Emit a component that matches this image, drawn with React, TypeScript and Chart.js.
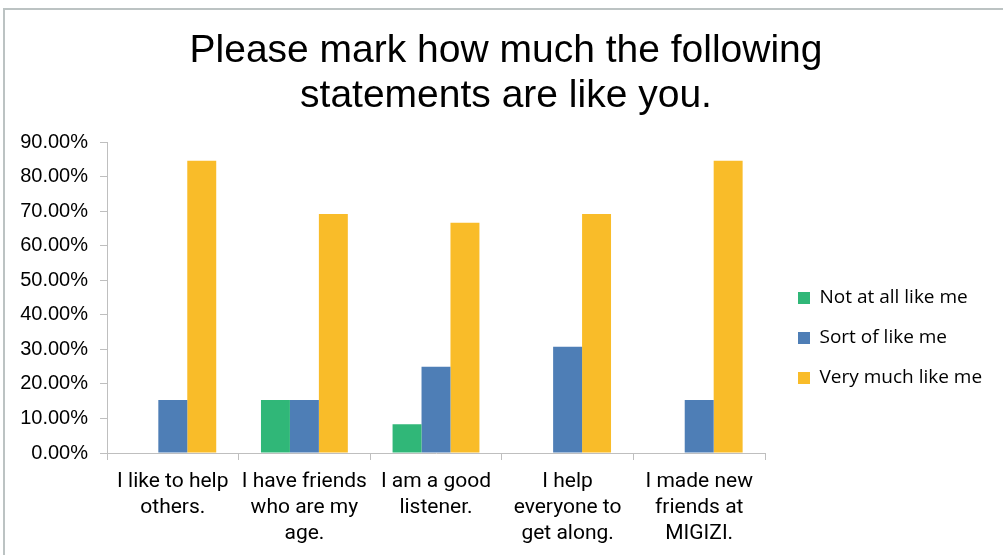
import React, { useEffect, useRef } from "react";
import { Chart, registerables } from "chart.js";

Chart.register(...registerables);

const titleLines = ["Please mark how much the following", "statements are like you."];
const categories = [
  ["I like to help", "others."],
  ["I have friends", "who are my", "age."],
  ["I am a good", "listener."],
  ["I help", "everyone to", "get along."],
  ["I made new", "friends at", "MIGIZI."],
];
const seriesNames = ["Not at all like me", "Sort of like me", "Very much like me"];
const notAtAll = [0, 15.38, 8.33, 0, 0];
const sortOf = [15.38, 15.38, 25, 30.77, 15.38];
const veryMuch = [84.62, 69.23, 66.67, 69.23, 84.62];
const seriesColors = ["#30B778", "#4E7EB6", "#F9BC29"];
const yTicks = [0, 10, 20, 30, 40, 50, 60, 70, 80, 90];

export default function App() {
  const ref = useRef<HTMLCanvasElement | null>(null);
  useEffect(() => {
    if (!ref.current) return;
    const axisColor = "#BFBFBF";
    const chart = new Chart(ref.current, {
      type: "bar",
      data: {
        labels: categories as any,
        datasets: [notAtAll, sortOf, veryMuch].map((d, i) => ({
          label: seriesNames[i],
          data: d,
          backgroundColor: seriesColors[i],
          borderWidth: 0,
          barPercentage: 1,
          categoryPercentage: 0.66,
          yAxisID: "y",
        })),
      },
      options: {
        responsive: false,
        animation: false,
        layout: { padding: { left: 22, right: 13, top: 0, bottom: 0 } },
        plugins: {
          title: {
            display: true,
            text: titleLines,
            color: "#000",
            font: { family: "'Liberation Sans', Arial, sans-serif", size: 39, weight: "normal", lineHeight: 1.17 },
            padding: { top: 28, bottom: 23 },
          },
          legend: {
            position: "right",
            align: "center",
            maxWidth: 320,
            title: { display: true, text: " ", font: { size: 10, lineHeight: 1 }, padding: { top: 111, bottom: 0 } },
            labels: {
              boxWidth: 12,
              boxHeight: 12,
              padding: 21,
              color: "#000",
              font: { family: "'Open Sans', 'Noto Sans', sans-serif", size: 19 },
            },
          },
          tooltip: { enabled: false },
        },
        scales: {
          x: {
            grid: { display: true, drawOnChartArea: false, drawTicks: true, tickLength: 7, color: axisColor, offset: true },
            border: { display: true, color: axisColor, width: 1 },
            ticks: {
              color: "#000",
              padding: 9,
              maxRotation: 0,
              autoSkip: false,
              font: { family: "Roboto, 'Liberation Sans', sans-serif", size: 21, lineHeight: 1.24 },
            },
            afterFit: (s: any) => { s.height = 102; },
          },
          y: {
            min: 0,
            max: 90,
            afterBuildTicks: (s: any) => { s.ticks = yTicks.map((v) => ({ value: v })); },
            grid: { display: true, drawOnChartArea: false, drawTicks: true, tickLength: 7, color: axisColor },
            border: { display: true, color: axisColor, width: 1 },
            ticks: {
              color: "#000",
              padding: 12,
              font: { family: "'Liberation Sans', Arial, sans-serif", size: 20 },
              callback: (v: any) => Number(v).toFixed(2) + "%",
            },
            afterFit: (s: any) => { s.width = 107 - (s.chart.options.layout.padding.left || 0); },
          },
          pad: {
            type: "linear",
            position: "right",
            display: true,
            grid: { display: false },
            border: { display: false },
            ticks: { display: false },
            afterFit: (s: any) => { s.width = 12; },
          },
        },
      } as any,
    });
    // Place the legend so its first swatch starts at x=798 and keep the title centred.
    const W = chart.legend ? chart.legend.width : 210;
    const padR = 1003 - 777 - W;
    const padL = Math.max(0, Math.min(40, padR + 9));
    (chart.options as any).layout.padding = { left: padL, right: padR, top: 0, bottom: 0 };
    chart.update();
    return () => chart.destroy();
  }, []);
  return (
    <div style={{ position: "fixed", left: 0, top: 0, width: 1003, height: 555, background: "#fff" }}>
      <div
        style={{
          position: "absolute",
          left: 3,
          top: 8,
          width: 1003,
          height: 560,
          borderLeft: "2px solid #BCC3C3",
          borderTop: "2px solid #BCC3C3",
        }}
      />
      <canvas ref={ref} width={1003} height={555} style={{ position: "absolute", left: 0, top: 0, display: "block" }} />
    </div>
  );
}
